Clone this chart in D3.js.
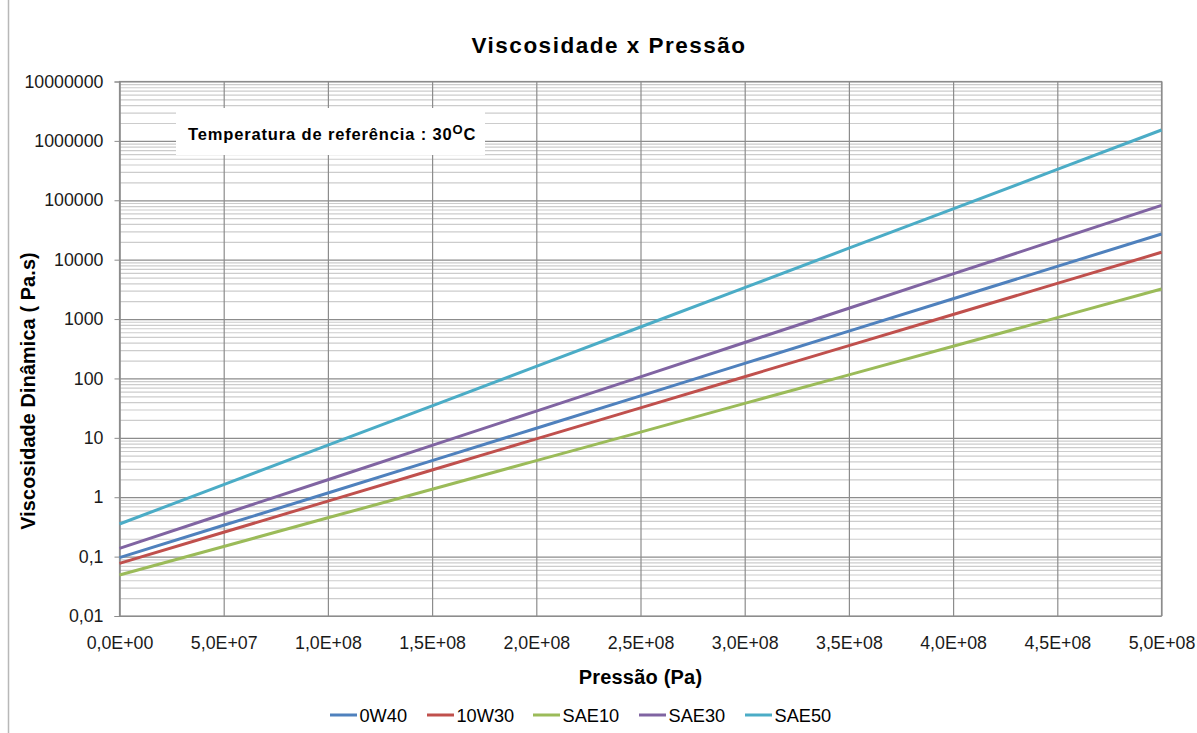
<!DOCTYPE html>
<html>
<head>
<meta charset="utf-8">
<script src="https://cdn.jsdelivr.net/npm/d3@7"></script>
<style>
  html, body { margin: 0; padding: 0; background: #fff; }
  svg { display: block; font-family: "Liberation Sans", Arial, sans-serif; }
</style>
</head>
<body>
<svg id="chart" width="1197" height="733"></svg>
<script>
// Pressure samples (Pa)
const pressures = [0, 5e7, 1e8, 1.5e8, 2e8, 2.5e8, 3e8, 3.5e8, 4e8, 4.5e8, 5e8];

// Dynamic viscosity (Pa.s) at each pressure, per oil grade
const visc0W40  = [0.096, 0.337, 1.18, 4.14, 14.5, 50.9, 179, 627, 2198, 7709, 27040];
const visc10W30 = [0.077, 0.257, 0.86, 2.87, 9.59, 32.0, 107, 357, 1193, 3984, 13300];
const viscSAE10 = [0.049, 0.148, 0.45, 1.36, 4.13, 12.5, 38.0, 115, 349, 1058, 3206];
const viscSAE30 = [0.138, 0.522, 1.97, 7.46, 28.2, 106.5, 403, 1522, 5754, 21760, 82200];
const viscSAE50 = [0.354, 1.63, 7.51, 34.6, 159.5, 735, 3383, 15590, 71800, 331000, 1524000];

const seriesNames  = ["0W40", "10W30", "SAE10", "SAE30", "SAE50"];
const seriesValues = [visc0W40, visc10W30, viscSAE10, viscSAE30, viscSAE50];
const seriesColors = ["#4F81BD", "#C0504D", "#9BBB59", "#8064A2", "#4BACC6"];

// Axis ticks
const xTicks = [0, 5e7, 1e8, 1.5e8, 2e8, 2.5e8, 3e8, 3.5e8, 4e8, 4.5e8, 5e8];
const yTicks = [0.01, 0.1, 1, 10, 100, 1000, 10000, 100000, 1000000, 10000000];

const svg = d3.select("#chart");
const plot = { left: 119.5, right: 1161.5, top: 81.5, bottom: 616 };

const x = d3.scaleLinear().domain([0, 5e8]).range([plot.left, plot.right]);
const y = d3.scaleLog().domain([0.01, 1e7]).range([plot.bottom, plot.top]);

// Outer chart frame (left edge)
svg.append("line")
  .attr("x1", 8.5).attr("x2", 8.5).attr("y1", 0).attr("y2", 733)
  .attr("stroke", "#b8b8b8").attr("stroke-width", 1.5);

// Minor horizontal gridlines (2..9 inside each decade)
const minorY = [];
yTicks.slice(0, -1).forEach(d => { for (let k = 2; k <= 9; k++) minorY.push(k * d); });

svg.append("g")
  .attr("transform", `translate(${plot.left},0)`)
  .call(d3.axisLeft(y).tickValues(minorY).tickSize(-(plot.right - plot.left)).tickFormat(""))
  .call(g => g.select(".domain").remove())
  .call(g => g.selectAll("line").attr("stroke", "#cccccc").attr("stroke-width", 1.2));

// Major horizontal gridlines
svg.append("g")
  .attr("transform", `translate(${plot.left},0)`)
  .call(d3.axisLeft(y).tickValues(yTicks).tickSize(-(plot.right - plot.left)).tickFormat(""))
  .call(g => g.select(".domain").remove())
  .call(g => g.selectAll("line").attr("stroke", "#8c8c8c").attr("stroke-width", 1.2));

// Vertical gridlines
svg.append("g")
  .attr("transform", `translate(0,${plot.bottom})`)
  .call(d3.axisBottom(x).tickValues(xTicks).tickSize(-(plot.bottom - plot.top)).tickFormat(""))
  .call(g => g.select(".domain").remove())
  .call(g => g.selectAll("line").attr("stroke", "#8c8c8c").attr("stroke-width", 1.2));

// Plot border
svg.append("rect")
  .attr("x", plot.left).attr("y", plot.top)
  .attr("width", plot.right - plot.left).attr("height", plot.bottom - plot.top)
  .attr("fill", "none").attr("stroke", "#8c8c8c").attr("stroke-width", 1.2);

// Y axis with labels
const fmtY = v => v < 1 ? String(v).replace(".", ",") : d3.format("d")(v);
svg.append("g")
  .attr("transform", `translate(${plot.left},0)`)
  .call(d3.axisLeft(y).tickValues(yTicks).tickSize(5).tickPadding(11).tickFormat(fmtY))
  .call(g => g.select(".domain").attr("stroke", "#8c8c8c"))
  .call(g => g.selectAll("line").attr("stroke", "#8c8c8c"))
  .call(g => g.selectAll("text")
    .attr("font-family", "Liberation Sans, Arial, sans-serif")
    .attr("font-size", 17.8).attr("fill", "#1a1a1a"));

// X axis with labels
const fmtX = v => {
  const [m, e] = v.toExponential(1).split("e");
  const sign = e[0] === "-" ? "-" : "+";
  const exp = String(Math.abs(+e)).padStart(2, "0");
  return m.replace(".", ",") + "E" + sign + exp;
};
svg.append("g")
  .attr("transform", `translate(0,${plot.bottom})`)
  .call(d3.axisBottom(x).tickValues(xTicks).tickSize(0).tickPadding(20.5).tickFormat(fmtX))
  .call(g => g.select(".domain").remove())
  .call(g => g.selectAll("text")
    .attr("font-family", "Liberation Sans, Arial, sans-serif")
    .attr("font-size", 17.8).attr("fill", "#1a1a1a"));

// Series lines
const line = d3.line()
  .x((d, i) => x(pressures[i]))
  .y(d => y(d));

svg.append("g")
  .selectAll("path")
  .data(seriesValues)
  .join("path")
  .attr("d", d => line(d))
  .attr("fill", "none")
  .attr("stroke", (d, i) => seriesColors[i])
  .attr("stroke-width", 3)
  .attr("stroke-linejoin", "round");

// Reference temperature note
svg.append("rect")
  .attr("x", 176).attr("y", 108).attr("width", 309).attr("height", 47)
  .attr("fill", "#fff");
const note = svg.append("text")
  .attr("x", 188).attr("y", 140)
  .attr("font-size", 16.5).attr("font-weight", "bold").attr("fill", "#000")
  .attr("letter-spacing", 0.85);
note.append("tspan").text("Temperatura de referência : 30");
note.append("tspan").attr("font-size", 13).attr("dy", -6).text("O");
note.append("tspan").attr("dy", 6).text("C");

// Title
svg.append("text")
  .attr("x", 609).attr("y", 53)
  .attr("text-anchor", "middle")
  .attr("font-size", 22.5).attr("font-weight", "bold").attr("fill", "#000")
  .attr("letter-spacing", 1.5)
  .text("Viscosidade x  Pressão");

// Axis titles
svg.append("text")
  .attr("x", 640.5).attr("y", 684)
  .attr("text-anchor", "middle")
  .attr("font-size", 20).attr("font-weight", "bold").attr("fill", "#000")
  .attr("letter-spacing", 0.2)
  .text("Pressão (Pa)");

svg.append("text")
  .attr("transform", "translate(35,391) rotate(-90)")
  .attr("text-anchor", "middle")
  .attr("font-size", 19.8).attr("font-weight", "bold").attr("fill", "#000")
  .attr("letter-spacing", 0.15)
  .text("Viscosidade Dinâmica ( Pa.s)");

// Legend
const legendX = [330, 427, 533, 639, 745];
const legend = svg.append("g")
  .selectAll("g")
  .data(seriesNames)
  .join("g")
  .attr("transform", (d, i) => `translate(${legendX[i]},715)`);
legend.append("line")
  .attr("x1", 0).attr("x2", 27).attr("y1", 0).attr("y2", 0)
  .attr("stroke", (d, i) => seriesColors[i]).attr("stroke-width", 3);
legend.append("text")
  .attr("x", 29.5).attr("y", 6.5)
  .attr("font-size", 18.2).attr("fill", "#000")
  .text(d => d);
</script>
</body>
</html>
